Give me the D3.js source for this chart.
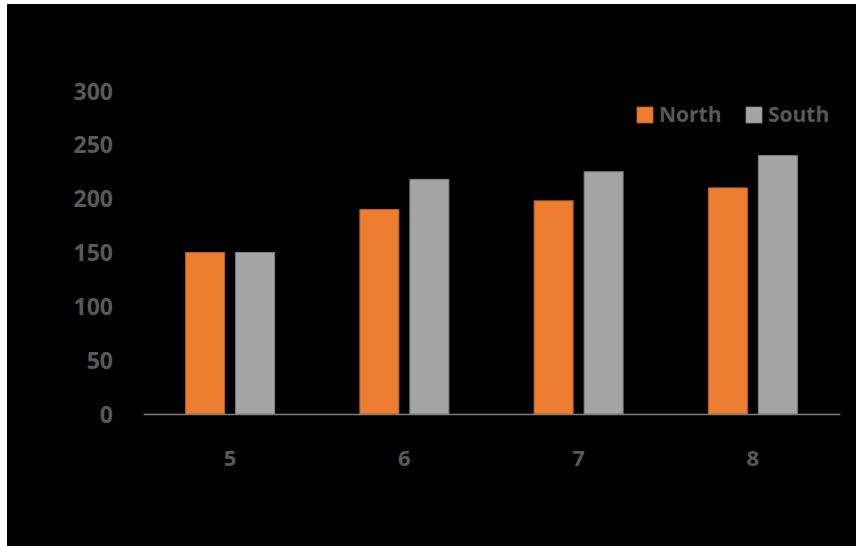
<!DOCTYPE html>
<html>
<head>
<meta charset="utf-8">
<script src="https://cdn.jsdelivr.net/npm/d3@7"></script>
<style>
  html, body { margin: 0; padding: 0; background: #ffffff; }
  svg { display: block; }
</style>
</head>
<body>
<svg id="chart" width="856" height="546"></svg>
<script>
// Monthly totals by region
const categories = ["5", "6", "7", "8"];
const seriesNames = ["North", "South"];
const northValues = [150, 190, 198, 210];
const southValues = [150, 218, 225, 240];
const yTicks = [0, 50, 100, 150, 200, 250, 300];

const colors = { North: "#ED7D31", South: "#A5A5A5" };
const strokes = { North: "#B8612A", South: "#7F7F7F" };
const textColor = "#595959";
const fontFamily = "'Open Sans', 'Liberation Sans', sans-serif";

const svg = d3.select("#chart");
const W = 856, H = 546;

// dark chart area with a thin light margin on the top and left
svg.append("rect").attr("x", 7).attr("y", 4).attr("width", W - 7).attr("height", H - 4).attr("fill", "#000000");

const plot = { left: 143, right: 840, top: 91, bottom: 414 };

const x = d3.scaleBand().domain(categories).range([plot.left, plot.right]);
const y = d3.scaleLinear().domain([0, 300]).range([plot.bottom, plot.top]);

const data = categories.map((c, i) => ({ cat: c, North: northValues[i], South: southValues[i] }));

const barW = 39;
const gap = 11;

// bars, two per category
const groups = svg.append("g").selectAll("g").data(data).join("g")
  .attr("transform", d => `translate(${x(d.cat) + x.bandwidth() / 2 - (barW * 2 + gap) / 2},0)`);

seriesNames.forEach((s, si) => {
  groups.append("rect")
    .attr("x", si * (barW + gap))
    .attr("y", d => y(d[s]))
    .attr("width", barW)
    .attr("height", d => y(0) - y(d[s]))
    .attr("fill", colors[s])
    .attr("stroke", strokes[s])
    .attr("stroke-width", 1);
});

// y axis labels (no axis line)
const yAxis = d3.axisLeft(y).tickValues(yTicks).tickSize(0).tickPadding(0);
const yG = svg.append("g").attr("transform", `translate(${plot.left - 30},0)`).call(yAxis);
yG.select(".domain").remove();
yG.selectAll("text")
  .attr("fill", textColor)
  .attr("font-family", fontFamily)
  .attr("font-weight", 700)
  .attr("font-size", "23px")
  .attr("dy", "0.35em");

// x axis baseline and labels
const xAxis = d3.axisBottom(x).tickSize(0).tickPadding(0);
const xG = svg.append("g").attr("transform", `translate(0,${plot.bottom})`).call(xAxis);
xG.select(".domain").attr("stroke", "#7F7F7F").attr("stroke-width", 1.5);
xG.selectAll("text")
  .attr("fill", textColor)
  .attr("font-family", fontFamily)
  .attr("font-weight", 700)
  .attr("font-size", "22px")
  .attr("y", 44)
  .attr("dy", "0.35em");

// legend
const legendItems = [
  { name: "North", sx: 637 },
  { name: "South", sx: 746 }
];
const lg = svg.append("g");
legendItems.forEach(item => {
  lg.append("rect")
    .attr("x", item.sx).attr("y", 107).attr("width", 16).attr("height", 16)
    .attr("fill", colors[item.name]).attr("stroke", strokes[item.name]).attr("stroke-width", 0.8);
  lg.append("text")
    .attr("x", item.sx + 22).attr("y", 115).attr("dy", "0.35em")
    .attr("fill", textColor)
    .attr("font-family", fontFamily)
    .attr("font-weight", 700)
    .attr("font-size", "21px")
    .text(item.name);
});
</script>
</body>
</html>
